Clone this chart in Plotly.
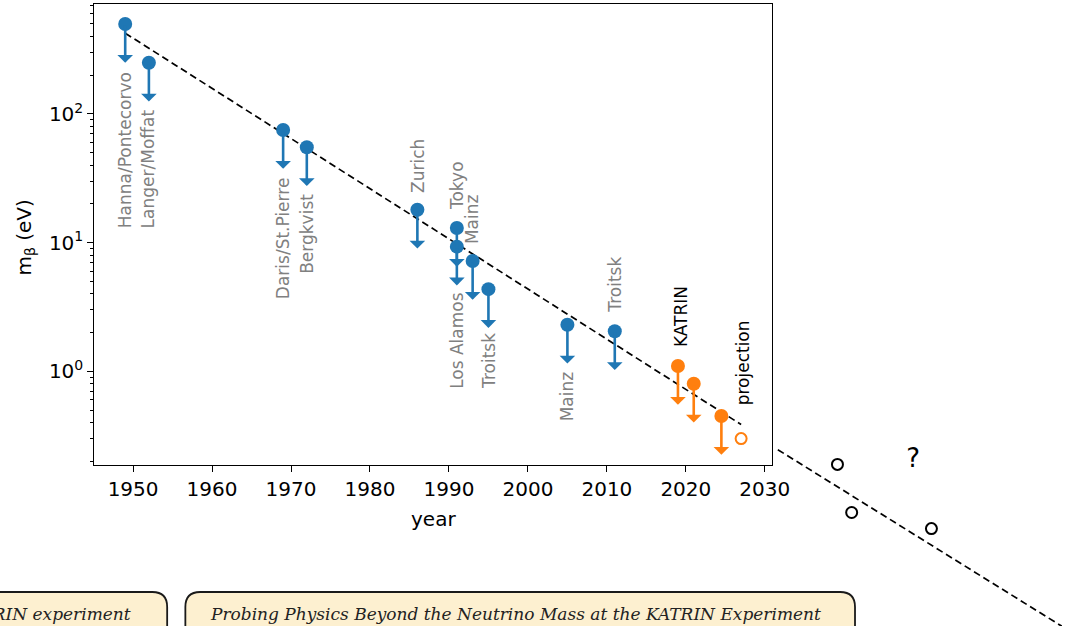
import math
import plotly.graph_objects as go

W, H = 1080, 626

# ---------------- data ----------------
years = [1949, 1952, 1969, 1972, 1986, 1991, 1991, 1993, 1995, 2005, 2011]
mass_limit = [500, 250, 75, 55, 18, 13, 9.3, 7.2, 4.35, 2.3, 2.05]
experiment = ["Hanna/Pontecorvo", "Langer/Moffat", "Daris/St.Pierre", "Bergkvist",
              "Zurich", "Tokyo", "Los Alamos", "Mainz", "Troitsk", "Mainz", "Troitsk"]
katrin_years = [2019, 2021, 2024.5]
katrin_mass = [1.1, 0.8, 0.45]
projection_years = [2027]
projection_mass = [0.3]
trend_years = [1949, 2027]
trend_mass = [424, 0.386]
trend_ext_years = [2031.65, 2068]
trend_ext_mass = [0.246, 0.0101]
future_years = [2039.2, 2041.0, 2051.1]
future_mass = [0.189, 0.080, 0.060]
question_years = [2048.8]
question_mass = [0.202]
x_tickvals = [1950, 1960, 1970, 1980, 1990, 2000, 2010, 2020, 2030]
y_tickvals = [1, 10, 100]
y_ticktext = ["10<sup>0</sup>", "10<sup>1</sup>", "10<sup>2</sup>"]
box_titles = ["KATRIN experiment",
              "Probing Physics Beyond the Neutrino Mass at the KATRIN Experiment"]

# ---------------- layout constants ----------------
label_bottom = [12.76, 12.76, 3.58, 5.60, 24.07, 17.7, 0.722, 9.51, 0.722, 0.404, 2.79]
katrin_label = ("KATRIN", 2019.3, 1.51)
projection_label = ("projection", 2027.2, 0.536)

BLUE = "#1f77b4"
ORANGE = "#ff7f0e"
GRAY = "#808080"
FONT = "DejaVu Sans"
DASH = "7px,4px"

PX0, PX1 = 96, 785      # frame left/right (px)
PT, PB = 4, 465         # frame top/bottom (px)
XR = [1945.1, 2030.9]
YR = [-0.728, 2.854]

ppy = (PX1 - PX0) / (XR[1] - XR[0])
ppd = (PB - PT) / (YR[1] - YR[0])
X2R = [XR[0] - PX0 / ppy, XR[1] + (W - PX1) / ppy]
Y2R = [YR[0] - (H - PB) / ppd, YR[1] + PT / ppd]

minor_vals = [d * 10 ** e for e in range(-1, 3) for d in range(2, 10) if d * 10 ** e < 720]

fig = go.Figure()

fig.add_trace(go.Scatter(x=trend_years, y=trend_mass, mode="lines",
                         line=dict(color="black", width=1.7, dash=DASH),
                         xaxis="x", yaxis="y", showlegend=False, hoverinfo="skip"))
fig.add_trace(go.Scatter(x=years, y=mass_limit, mode="markers",
                         marker=dict(color=BLUE, size=14, line=dict(width=0)),
                         xaxis="x", yaxis="y", showlegend=False))
fig.add_trace(go.Scatter(x=katrin_years, y=katrin_mass, mode="markers",
                         marker=dict(color=ORANGE, size=14, line=dict(width=0)),
                         xaxis="x", yaxis="y", showlegend=False))
fig.add_trace(go.Scatter(x=projection_years, y=projection_mass, mode="markers",
                         marker=dict(color=ORANGE, size=11, symbol="circle-open",
                                     line=dict(width=2, color=ORANGE)),
                         xaxis="x", yaxis="y", showlegend=False))

fig.add_trace(go.Scatter(x=trend_ext_years, y=trend_ext_mass, mode="lines",
                         line=dict(color="black", width=1.7, dash=DASH),
                         xaxis="x2", yaxis="y2", showlegend=False, hoverinfo="skip"))
fig.add_trace(go.Scatter(x=future_years, y=future_mass, mode="markers",
                         marker=dict(color="black", size=11, symbol="circle-open",
                                     line=dict(width=2, color="black")),
                         xaxis="x2", yaxis="y2", showlegend=False))
fig.add_trace(go.Scatter(x=question_years, y=question_mass, mode="text", text=["?"],
                         textfont=dict(family=FONT, size=26, color="black"),
                         xaxis="x2", yaxis="y2", showlegend=False))

annotations = []
for yr, m, col in ([(a, b, BLUE) for a, b in zip(years, mass_limit)] +
                   [(a, b, ORANGE) for a, b in zip(katrin_years, katrin_mass)]):
    annotations.append(dict(x=yr, y=math.log10(m / 2), ax=yr, ay=math.log10(m),
                            xref="x", yref="y", axref="x", ayref="y", text="",
                            showarrow=True, arrowhead=1, arrowsize=1.0, arrowwidth=2.6,
                            arrowcolor=col, standoff=0, startstandoff=0))
for yr, name, b in zip(years, experiment, label_bottom):
    annotations.append(dict(x=yr, y=math.log10(b), xref="x", yref="y", text=name,
                            textangle=-90, xanchor="center", yanchor="bottom",
                            showarrow=False, borderpad=0,
                            font=dict(family=FONT, size=17, color=GRAY)))
for name, yr, b in (katrin_label, projection_label):
    annotations.append(dict(x=yr, y=math.log10(b), xref="x", yref="y", text=name,
                            textangle=-90, xanchor="center", yanchor="bottom",
                            showarrow=False, borderpad=0,
                            font=dict(family=FONT, size=17, color="black")))
annotations.append(dict(x=(PX0 + PX1) / 2 / W, y=1 - 519 / H, xref="paper", yref="paper",
                        text="year", showarrow=False, xanchor="center", yanchor="middle",
                        font=dict(family=FONT, size=20, color="black")))
annotations.append(dict(x=25 / W, y=1 - 238 / H, xref="paper", yref="paper",
                        text="m<sub>β</sub> (eV)", textangle=-90, showarrow=False,
                        xanchor="center", yanchor="middle",
                        font=dict(family=FONT, size=20, color="black")))
annotations.append(dict(x=135.5 / W, y=1 - 614 / H, xref="paper", yref="paper",
                        text="<i>" + box_titles[0] + "</i>", showarrow=False,
                        xanchor="right", yanchor="middle",
                        font=dict(family="DejaVu Serif", size=17, color="#222222")))
annotations.append(dict(x=211.7 / W, y=1 - 614 / H, xref="paper", yref="paper",
                        text="<i>" + box_titles[1] + "</i>", showarrow=False,
                        xanchor="left", yanchor="middle",
                        font=dict(family="DejaVu Serif", size=17, color="#222222")))


def rbox(x0, y0, x1, y1, r):
    def X(v):
        return v / W

    def Y(v):
        return 1 - v / H
    return (f"M {X(x0 + r)},{Y(y0)} L {X(x1 - r)},{Y(y0)} Q {X(x1)},{Y(y0)} {X(x1)},{Y(y0 + r)} "
            f"L {X(x1)},{Y(y1 - r)} Q {X(x1)},{Y(y1)} {X(x1 - r)},{Y(y1)} "
            f"L {X(x0 + r)},{Y(y1)} Q {X(x0)},{Y(y1)} {X(x0)},{Y(y1 - r)} "
            f"L {X(x0)},{Y(y0 + r)} Q {X(x0)},{Y(y0)} {X(x0 + r)},{Y(y0)} Z")


shapes = [
    dict(type="path", xref="paper", yref="paper", path=rbox(-40, 592, 170, 680, 15),
         fillcolor="#fdf0d0", line=dict(color="#1a1a1a", width=1.8), layer="below"),
    dict(type="path", xref="paper", yref="paper", path=rbox(188.5, 592, 869.5, 680, 15),
         fillcolor="#fdf0d0", line=dict(color="#1a1a1a", width=1.8), layer="below"),
]

axis_common = dict(ticks="outside", ticklen=6, tickwidth=1.3, tickcolor="black",
                   showline=True, mirror=True, linecolor="black", linewidth=1.3,
                   showgrid=False, zeroline=False,
                   tickfont=dict(family=FONT, size=20, color="black"))

fig.update_layout(
    autosize=True,
    margin=dict(l=0, r=0, t=0, b=0, pad=0),
    paper_bgcolor="white", plot_bgcolor="rgba(0,0,0,0)",
    showlegend=False,
    xaxis=dict(domain=[PX0 / W, PX1 / W], range=XR, tickmode="array", tickvals=x_tickvals,
               anchor="y", **axis_common),
    yaxis=dict(domain=[1 - PB / H, 1 - PT / H], type="log", range=YR, tickmode="array",
               tickvals=y_tickvals, ticktext=y_ticktext, anchor="x",
               minor=dict(tickmode="array", tickvals=minor_vals, ticks="outside", ticklen=3.5,
                          tickwidth=1, tickcolor="black", showgrid=False),
               **axis_common),
    xaxis2=dict(domain=[0, 1], range=X2R, visible=False, anchor="y2"),
    yaxis2=dict(domain=[0, 1], range=Y2R, type="log", visible=False, anchor="x2"),
    annotations=annotations,
    shapes=shapes,
)

post = ("document.documentElement.style.cssText='margin:0;padding:0;overflow:hidden;height:100%;';"
        "document.body.style.cssText='margin:0;padding:0;overflow:hidden;height:100%;';"
        "var gd=document.getElementById('{plot_id}');"
        "gd.style.width='100vw';gd.style.height='100vh';"
        "Plotly.relayout(gd,{width:window.innerWidth,height:window.innerHeight});")

fig.write_html("out.html", config={"displayModeBar": False, "responsive": True},
               default_width="100%", default_height="100%", post_script=post)
